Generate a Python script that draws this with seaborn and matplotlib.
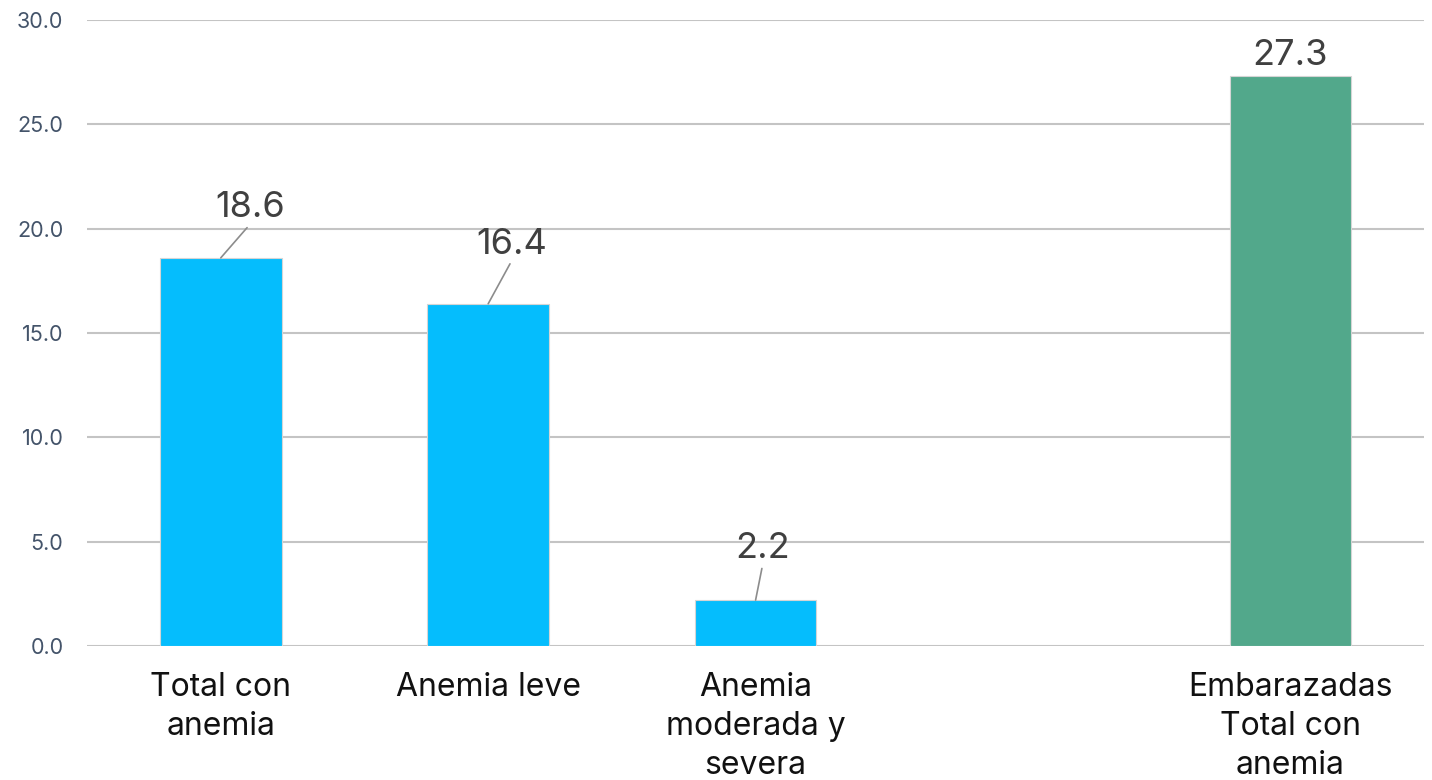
import matplotlib.pyplot as plt
import pandas as pd
import seaborn as sns


categories = [
    "Total con\nanemia",
    "Anemia leve",
    "Anemia\nmoderada y\nsevera",
    "Embarazadas\nTotal con\nanemia",
]
values = [18.6, 16.4, 2.2, 27.3]
slot_order = [categories[0], categories[1], categories[2], " ", categories[3]]
bar_colors = ["#05BDFD", "#05BDFD", "#05BDFD", "#52A88B"]
# label offsets (points) for the leader-line annotations
label_offsets = [(21, 36), (17, 43), (5, 37), (0, 3)]
y_ticks = [0, 5, 10, 15, 20, 25, 30]


def plot_chart() -> None:
    sns.set_theme(style="white")
    plt.rcParams["font.family"] = ["Inter", "DejaVu Sans"]

    df = pd.DataFrame({"cat": categories, "val": values})
    fig = plt.figure(figsize=(14.32, 7.8), dpi=100)
    ax = fig.add_axes([0.0608, 0.1718, 0.9337, 0.8026])

    sns.barplot(
        data=df,
        x="cat",
        y="val",
        hue="cat",
        order=slot_order,
        hue_order=categories,
        palette=bar_colors,
        saturation=1,
        width=0.455,
        legend=False,
        edgecolor="#D5D5D5",
        linewidth=0.8,
        ax=ax,
        zorder=3,
    )

    ax.set_xlim(-0.5, 4.5)
    ax.set_ylim(0, 30)
    ax.set_yticks(y_ticks)
    ax.set_yticklabels([f"{t:.1f}" for t in y_ticks], fontsize=15.5, color="#44546A")
    ax.yaxis.grid(True, color="#C4C4C4", linewidth=1.5, zorder=0)
    ax.set_axisbelow(True)
    ax.tick_params(axis="y", length=0, pad=17)
    ax.tick_params(axis="x", length=0, pad=19, labelsize=23, labelcolor="#111111")
    for lbl in ax.get_xticklabels():
        lbl.set_linespacing(1.32)
    ax.set_xlabel("")
    ax.set_ylabel("")
    for side in ["top", "right", "left", "bottom"]:
        ax.spines[side].set_visible(False)

    for cat, val, off in zip(categories, values, label_offsets):
        xpos = slot_order.index(cat)
        arrow = None
        if off[0] != 0:
            arrow = dict(arrowstyle="-", color="#8C8C8C", lw=1.2, shrinkA=0, shrinkB=0,
                         relpos=(0.5, 0.0))
        ax.annotate(
            f"{val:.1f}",
            xy=(xpos, val),
            xytext=(off[0], off[1]),
            textcoords="offset points",
            ha="center",
            va="bottom" if arrow is None else "center",
            fontsize=26,
            color="#404040",
            arrowprops=arrow,
            zorder=4,
        )

    fig.savefig("out.png", dpi=100)


if __name__ == "__main__":
    plot_chart()
